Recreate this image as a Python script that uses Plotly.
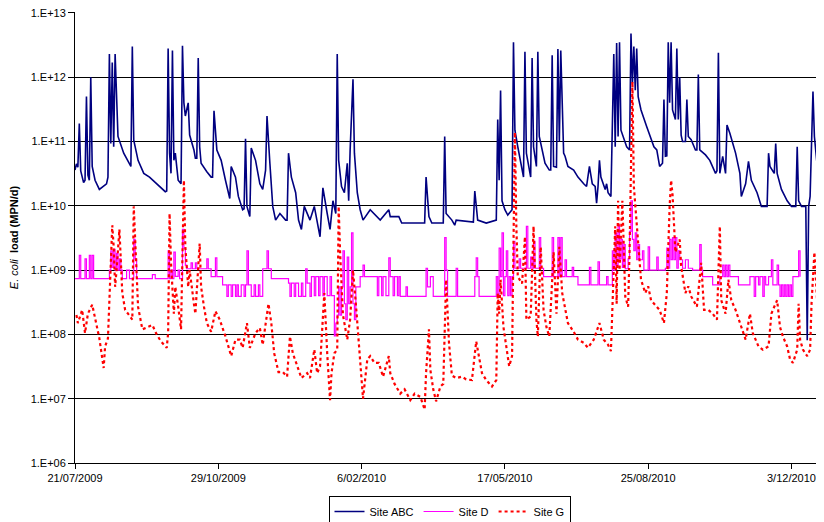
import pandas as pd
import plotly.graph_objects as go

START = pd.Timestamp("2009-07-21")

# ---- Site ABC (day number since 21/07/2009, E. coli load MPN/d)
abc_day = [0, 1, 2, 3, 4, 6, 7, 8, 9, 10, 11, 12, 14, 17, 22, 23, 24, 25, 26, 27, 28, 29, 30, 34, 37, 39, 40, 41,
           44, 48, 52, 57, 63, 64, 65, 66, 67, 68, 69, 70, 72, 74, 75, 76, 77, 79, 80, 83, 84, 85, 86, 87, 88, 92,
           95, 96, 97, 99, 102, 105, 108, 109, 112, 114, 117, 118, 119, 120, 122, 123, 126, 129, 131, 133, 134,
           136, 138, 140, 143, 147, 148, 149, 151, 154, 156, 158, 160, 164, 167, 171, 173, 176, 178, 180, 182,
           183, 184, 186, 188, 190, 191, 192, 194, 195, 197, 199, 201, 206, 213, 219, 220, 226, 228, 244, 245,
           247, 249, 257, 258, 259, 263, 265, 266, 278, 279, 281, 287, 294, 295, 296, 297, 298, 300, 302, 305,
           306, 307, 309, 312, 313, 314, 315, 318, 319, 320, 322, 323, 324, 328, 331, 332, 333, 334, 336, 337,
           338, 339, 341, 342, 344, 348, 351, 355, 357, 359, 361, 363, 364, 365, 366, 367, 370, 371, 372, 374,
           375, 376, 377, 378, 379, 380, 381, 385, 387, 388, 389, 390, 391, 392, 393, 395, 399, 402, 404, 406,
           408, 410, 411, 412, 413, 414, 415, 416, 417, 419, 420, 421, 422, 423, 424, 426, 427, 428, 430, 433,
           434, 435, 436, 440, 443, 447, 448, 449, 450, 452, 454, 455, 457, 461, 464, 465, 468, 470, 472, 476,
           479, 483, 484, 485, 488, 489, 490, 493, 497, 500, 503, 504, 505, 507, 510, 511, 512, 513, 514, 515,
           516, 518, 520, 522]
abc_val = [3.6e10, 4.5e10, 4.0e10, 1.9e11, 3.5e10, 2.3e10, 2.5e10, 5.0e11, 3.0e10, 2.5e10, 1.0e12, 4.1e10,
           2.5e10, 1.8e10, 2.2e10, 2.8e10, 2.3e12, 9.3e10, 1.7e12, 8.3e10, 2.3e12, 7.1e11, 1.2e11, 6.6e10,
           5.1e10, 4.1e10, 3.0e12, 1.05e11, 5.1e10, 3.2e10, 2.8e10, 2.2e10, 1.66e10, 1.7e10, 2.8e12, 6.6e10,
           3.2e10, 2.6e12, 5.1e10, 6.6e10, 2.5e10, 2.2e10, 3.1e12, 4.0e11, 2.5e11, 4.0e11, 1.26e11, 7.4e10,
           5.5e10, 5.5e10, 2.0e12, 8.3e10, 4.6e10, 3.4e10, 2.8e10, 2.8e10, 3.0e11, 7.4e10, 5.1e10, 2.5e10,
           1.3e10, 4.1e10, 2.8e10, 1.4e10, 8.7e9, 9.0e9, 1.1e11, 9.8e9, 6.8e9, 7.9e10, 5.1e10, 2.2e10, 1.8e10,
           3.6e10, 2.5e11, 4.6e10, 9.8e9, 6.0e9, 7.6e9, 6.0e9, 6.0e9, 6.6e10, 2.8e10, 1.6e10, 6.0e9, 4.3e9,
           9.8e9, 6.0e9, 9.8e9, 3.3e9, 1.9e10, 7.6e9, 4.3e9, 1.2e10, 7.6e9, 2.3e12, 5.1e10, 2.0e10, 1.6e10,
           4.6e10, 1.2e10, 7.4e10, 9.3e11, 6.6e10, 1.6e10, 8.7e9, 6.0e9, 8.7e9, 6.0e9, 8.7e9, 6.8e9, 6.8e9,
           5.4e9, 5.4e9, 2.8e10, 6.8e9, 5.4e9, 5.4e9, 1.2e11, 7.6e9, 6.0e9, 5.0e9, 6.0e9, 5.6e9, 1.7e10,
           6.0e9, 5.4e9, 6.0e9, 2.2e11, 2.5e10, 6.2e11, 1.2e10, 8.7e9, 7.2e9, 8.7e9, 3.5e12, 1.5e11, 8.3e10,
           3.6e10, 2.8e10, 2.5e12, 6.6e10, 2.8e10, 2.0e12, 8.3e10, 4.1e10, 2.5e12, 1.2e11, 4.6e10, 3.6e10,
           3.6e10, 2.2e12, 4.1e10, 4.0e10, 2.75e12, 1.0e11, 2.6e12, 6.6e10, 5.9e10, 4.1e10, 3.6e10, 2.8e10,
           2.2e10, 2.0e10, 4.1e10, 2.2e10, 2.0e10, 1.1e10, 2.0e10, 5.1e10, 2.8e10, 1.8e10, 2.2e10, 1.6e10,
           1.4e10, 3.3e11, 2.3e12, 8.3e10, 3.4e12, 1.2e11, 3.5e12, 1.5e11, 8.3e10, 7.4e10, 4.8e12, 8.0e11,
           3.0e12, 6.3e11, 2.8e12, 5.0e11, 3.1e11, 1.7e11, 1.05e11, 8.3e10, 7.4e10, 4.1e10, 4.6e10, 4.5e11,
           5.9e10, 6.0e10, 3.5e12, 4.0e11, 3.5e12, 3.1e11, 2.2e11, 2.8e12, 2.2e11, 1.0e12, 1.26e11, 1.0e11,
           1.0e11, 4.5e11, 1.2e11, 1.07e11, 7.4e10, 7.4e10, 1.1e12, 7.4e10, 6.2e10, 5.1e10, 3.2e10, 3.5e10,
           2.4e12, 3.2e10, 5.9e10, 3.2e10, 1.8e11, 1.35e11, 6.6e10, 3.2e10, 1.4e10, 2.2e10, 4.9e10, 2.5e10,
           1.6e10, 9.8e9, 9.8e9, 6.6e10, 4.1e10, 3.2e10, 9.3e10, 3.2e10, 1.8e10, 1.2e10, 9.8e9, 9.8e9, 8.3e10,
           1.2e10, 9.8e9, 9.8e9, 8.1e7, 9.8e9, 1.4e10, 1.0e11, 6.0e11, 1.2e11, 3.6e10, 1.4e10, 9.8e9]

# ---- Site D
d_day = [0, 3, 4, 7, 8, 10, 11, 12, 13, 24, 25, 26, 27, 28, 29, 30, 31, 32, 33, 36, 38, 41, 42, 43, 54, 56,
         65, 66, 67, 68, 69, 70, 72, 73, 75, 76, 77, 78, 81, 82, 84, 85, 92, 93, 95, 98, 99, 103, 106, 107,
         109, 110, 112, 113, 114, 116, 118, 119, 120, 121, 123, 125, 126, 128, 129, 131, 134, 135, 137, 149,
         150, 151, 153, 154, 156, 158, 159, 161, 162, 164, 165, 167, 168, 170, 171, 173, 174, 176, 178, 179,
         181, 182, 183, 184, 185, 186, 187, 188, 189, 190, 191, 192, 193, 194, 195, 196, 199, 201, 202, 211,
         212, 214, 215, 217, 219, 220, 222, 223, 225, 226, 227, 231, 232, 245, 246, 248, 250, 258, 259, 260,
         266, 267, 279, 280, 281, 282, 294, 295, 296, 297, 298, 299, 300, 301, 302, 303, 304, 305, 306, 307,
         310, 311, 315, 316, 318, 319, 320, 321, 324, 325, 327, 333, 334, 337, 338, 339, 340, 342, 343, 347,
         348, 351, 359, 360, 365, 366, 371, 372, 375, 376, 377, 378, 379, 380, 381, 382, 383, 384, 386, 387,
         388, 389, 390, 391, 392, 393, 394, 396, 397, 400, 401, 406, 407, 412, 413, 414, 415, 416, 417, 418,
         419, 420, 421, 422, 424, 426, 428, 431, 436, 437, 438, 445, 450, 452, 453, 454, 455, 456, 457, 463,
         471, 474, 475, 477, 478, 480, 481, 482, 484, 486, 487, 490, 491, 492, 493, 494, 495, 496, 497, 498,
         499, 500, 501, 505, 506]
d_val = [7.4e8, 1.7e9, 7.4e8, 1.5e9, 7.4e8, 1.7e9, 7.4e8, 1.7e9, 7.4e8, 1.0e9, 2.0e9, 1.1e9, 2.1e9, 1.0e9,
         1.8e9, 1.0e9, 1.5e9, 1.0e9, 7.4e8, 1.0e9, 7.4e8, 3.0e9, 1.5e9, 7.4e8, 8.5e8, 7.4e8, 2.0e9, 7.4e8,
         1.0e9, 7.4e8, 1.9e9, 8.0e8, 1.0e9, 7.4e8, 4.3e9, 2.2e9, 1.2e9, 1.05e9, 1.3e9, 1.05e9, 1.3e9, 1.05e9,
         1.5e9, 1.05e9, 7.9e8, 1.55e9, 7.9e8, 5.9e8, 3.9e8, 5.9e8, 3.9e8, 5.9e8, 3.9e8, 5.9e8, 3.9e8, 5.9e8,
         3.9e8, 5.9e8, 2.0e9, 5.9e8, 3.9e8, 5.9e8, 3.9e8, 5.9e8, 3.9e8, 1.05e9, 2.0e9, 1.05e9, 7.4e8, 6.3e8,
         3.9e8, 6.3e8, 3.9e8, 6.3e8, 3.9e8, 6.3e8, 3.9e8, 1.05e9, 6.3e8, 3.9e8, 7.9e8, 4.0e8, 7.9e8, 4.0e8,
         7.9e8, 4.0e8, 7.9e8, 4.0e8, 7.9e8, 4.0e8, 9.5e7, 1.5e8, 2.0e8, 5.5e8, 2.0e8, 5.5e8, 2.0e9, 3.0e8,
         1.7e8, 1.6e9, 3.0e8, 5.5e8, 3.8e9, 3.0e8, 1.7e8, 5.5e8, 7.9e8, 1.2e9, 7.9e8, 4.0e8, 7.9e8, 4.0e8,
         7.9e8, 4.0e8, 1.55e9, 7.9e8, 4.0e8, 7.9e8, 4.0e8, 7.9e8, 3.9e8, 5.5e8, 3.9e8, 1.07e9, 5.5e8, 7.9e8,
         3.9e8, 3.2e9, 1.0e9, 3.9e8, 1.07e9, 3.9e8, 7.9e8, 1.55e9, 7.9e8, 3.9e8, 7.9e8, 4.0e8, 2.2e9, 7.9e8,
         3.8e9, 4.0e8, 7.9e8, 2.0e9, 4.0e8, 7.9e8, 4.0e8, 7.9e8, 2.8e9, 1.07e9, 1.5e9, 1.07e9, 4.8e9, 1.07e9,
         1.6e9, 1.07e9, 2.8e9, 1.07e9, 3.2e9, 1.07e9, 7.9e8, 3.2e9, 7.9e8, 3.2e9, 7.9e8, 3.2e9, 7.9e8, 1.45e9,
         7.9e8, 1.1e9, 7.9e8, 5.9e8, 1.1e9, 5.9e8, 1.35e9, 5.9e8, 7.9e8, 5.9e8, 2.0e9, 1.0e9, 3.8e9, 1.2e9,
         5.0e9, 1.5e9, 3.0e9, 1.1e9, 2.5e9, 1.05e9, 1.5e9, 4.0e9, 1.2e10, 3.0e9, 2.0e9, 3.8e9, 1.45e9, 2.5e9,
         1.45e9, 2.0e9, 1.0e9, 2.3e9, 1.0e9, 1.6e9, 1.0e9, 1.07e9, 2.2e9, 1.07e9, 3.0e9, 1.45e9, 3.2e9,
         1.45e9, 3.2e9, 1.07e9, 2.0e9, 1.45e9, 1.07e9, 1.45e9, 1.07e9, 1.0e9, 2.5e9, 1.0e9, 7.9e8, 5.9e8,
         7.9e8, 1.2e9, 7.9e8, 1.2e9, 7.9e8, 1.2e9, 7.9e8, 5.9e8, 7.9e8, 3.9e8, 7.9e8, 5.9e8, 7.9e8, 3.9e8,
         7.9e8, 5.9e8, 7.9e8, 1.45e9, 5.9e8, 1.2e9, 5.9e8, 3.9e8, 5.9e8, 3.9e8, 5.9e8, 3.9e8, 5.9e8, 3.9e8,
         5.9e8, 3.9e8, 7.9e8, 2.0e9, 7.9e8]

# ---- Site G
g_day = [1, 2, 5, 7, 9, 12, 14, 17, 20, 21, 23, 24, 26, 27, 28, 29, 31, 33, 35, 37, 40, 41, 43, 44, 47, 51,
         54, 57, 60, 64, 65, 66, 67, 69, 70, 72, 74, 76, 77, 79, 80, 83, 84, 87, 88, 90, 92, 95, 98, 101, 105,
         109, 112, 115, 117, 120, 122, 126, 129, 131, 135, 137, 139, 142, 145, 148, 150, 152, 156, 158, 162,
         164, 167, 169, 171, 174, 176, 178, 179, 181, 183, 184, 185, 187, 188, 190, 192, 194, 196, 198, 201,
         204, 206, 209, 212, 215, 219, 220, 223, 227, 230, 234, 237, 241, 244, 245, 247, 248, 250, 252, 255,
         257, 259, 261, 263, 266, 270, 273, 277, 280, 284, 287, 291, 294, 295, 296, 297, 299, 301, 303, 305,
         306, 307, 308, 309, 312, 314, 315, 318, 320, 322, 323, 325, 327, 329, 331, 334, 336, 338, 340, 342,
         344, 348, 351, 355, 358, 362, 366, 369, 372, 374, 376, 377, 378, 379, 380, 382, 384, 386, 387, 389,
         390, 391, 393, 395, 398, 400, 402, 406, 408, 411, 413, 415, 416, 417, 418, 419, 422, 423, 426, 428,
         430, 434, 437, 439, 442, 445, 448, 450, 451, 454, 456, 458, 461, 464, 468, 471, 473, 477, 480, 484,
         486, 488, 490, 492, 494, 497, 499, 501, 504, 505, 506, 508, 511, 513, 514, 516, 518, 520, 522]
g_val = [2.0e8, 1.5e8, 2.4e8, 1.05e8, 2.1e8, 2.9e8, 1.8e8, 8.7e7, 3.0e7, 6.5e7, 8.7e7, 3.9e8, 5.0e9, 2.3e9,
         5.5e8, 1.0e9, 4.3e9, 4.4e8, 2.4e8, 2.1e8, 1.7e8, 9.8e9, 7.9e8, 2.7e8, 1.2e8, 1.3e8, 1.4e8, 1.0e8,
         7.8e7, 6.2e7, 1.05e8, 7.6e9, 1.3e9, 2.1e8, 5.5e8, 2.7e8, 1.2e8, 2.5e10, 2.3e9, 5.5e8, 1.0e9, 3.0e8,
         2.1e8, 2.6e9, 5.5e8, 2.7e8, 1.5e8, 1.1e8, 2.3e8, 1.7e8, 9.3e7, 4.6e7, 8.3e7, 8.3e7, 6.2e7, 1.5e8,
         6.2e7, 1.05e8, 1.26e8, 6.9e7, 3.0e8, 1.5e8, 5.1e7, 2.6e7, 2.6e7, 2.2e7, 9.3e7, 5.1e7, 2.8e7, 2.1e7,
         2.5e7, 2.1e7, 5.8e7, 2.5e7, 3.2e7, 4.4e8, 5.1e7, 9.5e6, 2.5e7, 5.1e7, 5.8e7, 9.8e9, 1.9e9, 2.0e8,
         1.5e8, 8.3e7, 1.7e8, 1.0e9, 3.0e8, 8.3e7, 1.0e7, 4.1e7, 4.6e7, 3.6e7, 3.6e7, 2.2e7, 4.6e7, 2.5e7,
         1.7e7, 1.2e7, 1.4e7, 9.5e6, 1.2e7, 1.07e7, 6.8e6, 2.5e7, 1.2e8, 2.8e7, 1.4e7, 9.1e6, 1.55e7, 1.7e7,
         7.1e8, 7.4e7, 2.3e7, 2.1e7, 2.2e7, 2.0e7, 1.95e7, 7.8e7, 2.5e7, 1.95e7, 1.55e7, 1.95e7, 4.4e8, 2.1e8,
         7.1e8, 1.3e8, 5.8e7, 3.2e7, 4.6e7, 4.8e9, 1.4e11, 4.8e9, 7.9e8, 6.2e8, 3.3e9, 1.7e8, 1.9e8, 4.8e9,
         1.7e8, 9.3e7, 2.3e9, 2.4e8, 1.3e8, 9.3e7, 1.9e9, 2.1e8, 2.3e9, 4.4e8, 2.7e8, 1.5e8, 1.1e8, 8.3e7,
         7.4e7, 6.2e7, 8.3e7, 1.5e8, 8.3e7, 6.9e7, 5.5e7, 1.9e9, 4.8e9, 3.0e8, 1.2e10, 1.0e9, 1.2e10, 3.9e8,
         2.7e8, 1.9e9, 8.5e11, 2.0e10, 9.8e9, 3.3e9, 7.1e8, 4.4e8, 5.6e8, 3.4e8, 2.7e8, 2.4e8, 1.5e8, 4.4e8,
         1.0e10, 2.5e10, 1.5e10, 6.0e9, 1.9e9, 3.0e9, 1.15e9, 4.4e8, 5.6e8, 3.9e8, 2.7e8, 1.3e9, 2.4e8, 2.4e8,
         2.1e8, 1.7e8, 4.8e9, 3.4e8, 2.1e8, 7.1e8, 3.4e8, 2.4e8, 1.5e8, 8.3e7, 2.1e8, 1.05e8, 6.5e7, 5.8e7,
         6.5e7, 2.1e8, 2.7e8, 3.4e8, 1.3e8, 9.3e7, 6.5e7, 4.1e7, 3.6e7, 5.8e7, 3.0e8, 8.3e7, 5.8e7, 4.6e7,
         5.8e7, 3.0e8, 1.9e9, 3.0e8, 8.3e7, 4.6e7]

tick_days = [0, 100, 200, 300, 400, 500]
tick_text = ["21/07/2009", "29/10/2009", "6/02/2010", "17/05/2010", "25/08/2010", "3/12/2010"]
y_tickvals = [1e6, 1e7, 1e8, 1e9, 1e10, 1e11, 1e12, 1e13]
y_ticktext = ["1.E+06", "1.E+07", "1.E+08", "1.E+09", "1.E+10", "1.E+11", "1.E+12", "1.E+13"]


def to_dates(days):
    return START + pd.to_timedelta(days, unit="D")


FONT = "Arial, Liberation Sans, sans-serif"

# The page body has an 8 px margin, so the figure is sized/margined to place the plot area
# at 75..824 x 13..463 in the 824x522 window.
FIG_W, FIG_H = 816, 514

fig = go.Figure()
fig.add_trace(go.Scatter(x=to_dates(abc_day), y=abc_val, mode="lines", name="Site ABC",
                         line=dict(color="#000080", width=1.6)))
fig.add_trace(go.Scatter(x=to_dates(d_day), y=d_val, mode="lines", name="Site D",
                         line=dict(color="#FF00FF", width=1.2, shape="hv")))
fig.add_trace(go.Scatter(x=to_dates(g_day), y=g_val, mode="lines", name="Site G",
                         line=dict(color="#FF0000", width=2.2, dash="dot")))

fig.update_layout(
    width=FIG_W, height=FIG_H,
    margin=dict(l=67, r=0, t=4, b=59),
    paper_bgcolor="white", plot_bgcolor="white",
    font=dict(family=FONT, size=11, color="black"),
    showlegend=True,
    legend=dict(orientation="h", x=0.5, xanchor="center", xref="paper",
                y=1 - 488 / FIG_H, yanchor="top", yref="container",
                bordercolor="black", borderwidth=1, font=dict(size=11), itemwidth=30,
                tracegroupgap=0),
)
fig.update_xaxes(
    type="date", automargin=False,
    range=[START, START + pd.Timedelta(days=522.7)],
    tickvals=to_dates(tick_days), ticktext=tick_text,
    ticks="outside", ticklen=5, tickcolor="black",
    showline=True, linecolor="black", linewidth=1,
    showgrid=False, zeroline=False,
    tickfont=dict(size=11),
)
fig.update_yaxes(
    type="log", range=[6, 13.015], automargin=False,
    tickvals=y_tickvals, ticktext=y_ticktext, ticklabeloverflow="allow",
    ticks="outside", ticklen=6, tickcolor="black",
    showline=True, linecolor="black", linewidth=1,
    showgrid=True, gridcolor="black", gridwidth=1,
    zeroline=False,
    tickfont=dict(size=11),
    title=dict(text="<i>E. coli</i>  <b>load (MPN/d)</b>", font=dict(size=11), standoff=10),
)

fig.write_html("out.html")
